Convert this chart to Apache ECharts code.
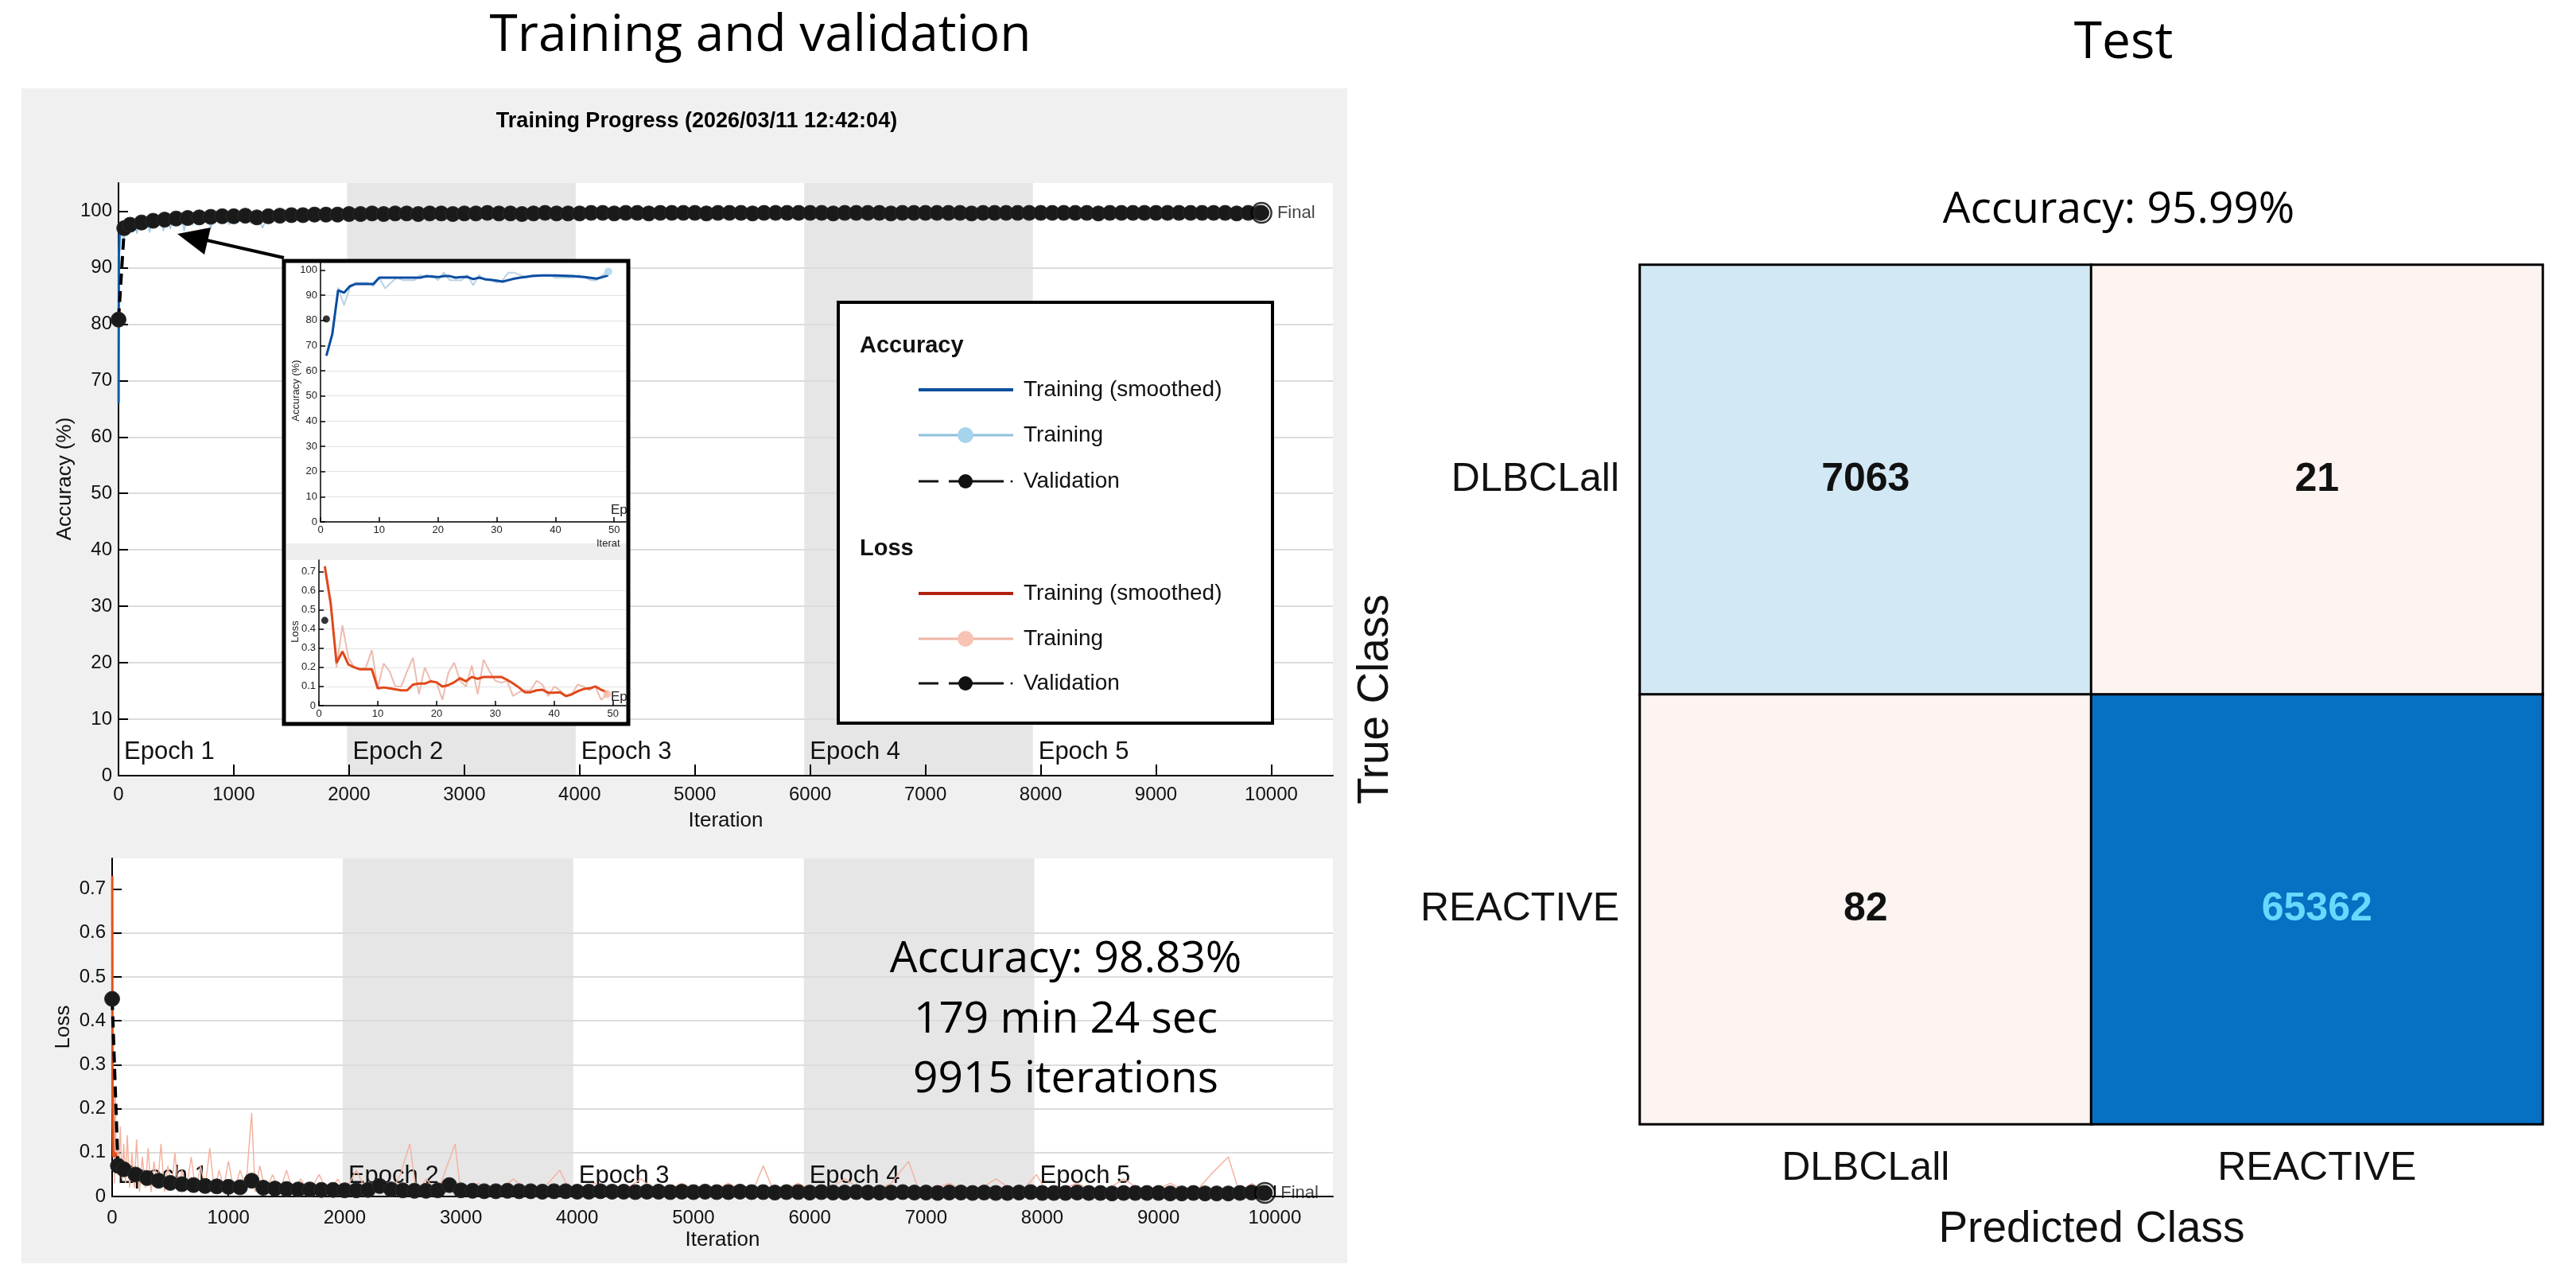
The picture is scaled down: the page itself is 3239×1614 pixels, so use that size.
<!DOCTYPE html>
<html>
<head>
<meta charset="utf-8">
<script src="https://cdn.jsdelivr.net/npm/echarts@6/dist/echarts.min.js"></script>
<style>html,body{margin:0;padding:0;background:#fff}#c{width:3239px;height:1614px}</style>
</head>
<body>
<div id="c"></div>
<script>
// ---------------- DATA ----------------
const iterTicks = [0,1000,2000,3000,4000,5000,6000,7000,8000,9000,10000];
const accTicks = [0,10,20,30,40,50,60,70,80,90,100];
const lossTicks = [0,0.1,0.2,0.3,0.4,0.5,0.6,0.7];
const insetIterTicks = [0,10,20,30,40,50];
const epochStarts = [0,1983,3966,5949,7932];
const epochLabels = ['Epoch 1','Epoch 2','Epoch 3','Epoch 4','Epoch 5'];
const shadedEpochs = [[1983,3966],[5949,7932]];

// Training accuracy (raw), iteration / value
const trainAccIter = [1,5,10,20,30,45,60,80,100,120,140,160,185,210,240,270,300,330,360,390,420,450,480,510,540,570,600,640,680,720,760,800,840,880,920,960,1000,1050,1100,1150,1200,1250,1300,1350,1400,1450,1500,1600,1700,1800,1900,2000,2150,2300,2500,2700,2850,3000,3100,3250,3400,3600,3870,4000,4300,4600,5000,5400,5800,6200,6600,7000,7400,7800,8200,8600,9000,9400,9600,9915];
const trainAccValues = [66,88,93,96,97,94,97.5,96,98,96.5,98.5,96,98.8,97,99,96.2,99,97.5,99.2,96.5,99.3,96.8,99.2,97.8,99.3,96.5,99.5,97.5,99.4,98,99.5,97,99.6,98.2,99.5,97.6,99.6,98.5,99.7,97.8,99.5,97,99.6,98.6,99.7,98.4,99.8,98.8,99.8,99,99.9,98.2,99.9,99.2,99.9,99.3,98.6,99.9,98.8,99.9,98.9,99.9,98.5,99.9,99.4,99.9,99.6,99.9,99.5,100,99.6,100,99.5,100,99.6,100,99.5,100,98.6,99.9];
// Training accuracy (smoothed)
const trainAccSmoothed = [[1,66],[3,92],[10,97],[30,96.5],[50,97.3],[100,97.7],[200,98.1],[400,98.5],[700,98.9],[1000,99.1],[1200,99.0],[1500,99.3],[2000,99.4],[3000,99.5],[4000,99.6],[6000,99.7],[8000,99.7],[9915,99.8]];

// Validation (iterations shared by accuracy and loss)
const valIters = [0,50,100,200,300,400,500,600,700,800,900,1000,1100,1200,1300,1400,1500,1600,1700,1800,1900,2000,2100,2200,2300,2400,2500,2600,2700,2800,2900,3000,3100,3200,3300,3400,3500,3600,3700,3800,3900,4000,4100,4200,4300,4400,4500,4600,4700,4800,4900,5000,5100,5200,5300,5400,5500,5600,5700,5800,5900,6000,6100,6200,6300,6400,6500,6600,6700,6800,6900,7000,7100,7200,7300,7400,7500,7600,7700,7800,7900,8000,8100,8200,8300,8400,8500,8600,8700,8800,8900,9000,9100,9200,9300,9400,9500,9600,9700,9800,9900,9915];
const valAccValues = [80.8,97.0,97.6,98.0,98.3,98.5,98.7,98.8,98.9,99.0,99.1,99.1,99.2,98.9,99.1,99.2,99.3,99.3,99.4,99.4,99.4,99.5,
 99.5,99.6,99.5,99.6,99.6,99.5,99.6,99.6,99.5,
 99.6,99.6,99.7,99.6,99.6,99.5,99.6,99.7,99.6,99.6,
 99.6,99.7,99.7,99.6,99.7,99.7,99.6,99.7,99.7,99.7,
 99.7,99.6,99.7,99.7,99.7,99.6,99.7,99.7,99.7,99.7,
 99.7,99.7,99.6,99.7,99.7,99.7,99.7,99.6,99.7,99.7,
 99.7,99.7,99.7,99.7,99.6,99.7,99.7,99.7,99.7,99.7,
 99.7,99.7,99.7,99.7,99.7,99.6,99.7,99.7,99.7,99.7,
 99.7,99.7,99.7,99.7,99.7,99.7,99.7,99.6,99.7,99.7,
 99.7];
const valLossValues = [0.45,0.07,0.062,0.05,0.042,0.036,0.031,0.028,0.026,0.024,0.023,0.022,0.021,0.036,0.02,0.018,0.017,0.016,0.016,0.015,0.015,0.014,
 0.014,0.015,0.024,0.016,0.014,0.013,0.013,0.014,0.026,
 0.014,0.013,0.012,0.012,0.013,0.012,0.012,0.011,0.012,0.012,
 0.011,0.011,0.012,0.011,0.011,0.01,0.011,0.011,0.01,0.011,
 0.01,0.011,0.01,0.01,0.011,0.01,0.01,0.009,0.01,0.01,
 0.009,0.01,0.009,0.009,0.01,0.009,0.009,0.009,0.01,0.009,
 0.009,0.008,0.009,0.009,0.008,0.009,0.008,0.008,0.009,0.01,
 0.008,0.008,0.008,0.009,0.008,0.008,0.007,0.008,0.008,0.008,
 0.008,0.007,0.007,0.008,0.007,0.007,0.007,0.008,0.009,0.008,
 0.008];

// Training loss (raw)
const trainLossRaw = [[1,0.73],[3,0.2],[5,0.42],[10,0.09],[16,0.25],[21,0.03],[28,0.24],[35,0.08],[45,0.13],[55,0.05],[70,0.16],[85,0.04],[100,0.12],[115,0.03],[130,0.14],[150,0.02],[170,0.1],[190,0.02],[210,0.13],[235,0.01],[260,0.09],[285,0.02],[310,0.11],[335,0.01],[360,0.08],[390,0.02],[420,0.12],[450,0.01],[480,0.07],[510,0.02],[540,0.1],[570,0.01],[600,0.06],[640,0.02],[680,0.09],[720,0.01],[760,0.07],[800,0.02],[840,0.11],[880,0.01],[920,0.06],[960,0.02],[1000,0.08],[1050,0.01],[1100,0.06],[1150,0.02],[1200,0.19],[1230,0.01],[1270,0.07],[1320,0.01],[1380,0.05],[1440,0.01],[1500,0.06],[1560,0.005],[1620,0.04],[1700,0.01],[1780,0.05],[1860,0.005],[1940,0.04],[2000,0.01],[2100,0.06],[2200,0.005],[2300,0.04],[2400,0.01],[2480,0.05],[2560,0.12],[2620,0.005],[2700,0.04],[2800,0.01],[2950,0.12],[3000,0.005],[3150,0.03],[3300,0.005],[3450,0.04],[3600,0.005],[3750,0.03],[3850,0.06],[3950,0.005],[4150,0.03],[4350,0.005],[4550,0.04],[4700,0.005],[4900,0.03],[5100,0.005],[5300,0.03],[5500,0.005],[5600,0.07],[5700,0.005],[5900,0.03],[6100,0.005],[6300,0.04],[6500,0.005],[6700,0.03],[6850,0.08],[6950,0.005],[7200,0.03],[7400,0.005],[7600,0.04],[7800,0.005],[7950,0.05],[8050,0.005],[8300,0.03],[8500,0.005],[8700,0.04],[8900,0.005],[9100,0.03],[9300,0.005],[9450,0.05],[9600,0.09],[9700,0.005],[9800,0.03],[9915,0.01]];
// Training loss (smoothed)
const trainLossSmoothed = [[1,0.73],[3,0.23],[10,0.09],[30,0.1],[50,0.07],[100,0.06],[200,0.045],[300,0.04],[500,0.03],[800,0.025],[1000,0.022],[1200,0.03],[1300,0.02],[1500,0.018],[2000,0.014],[3000,0.012],[4000,0.01],[5000,0.009],[6000,0.008],[7000,0.008],[8000,0.007],[9000,0.007],[9915,0.006]];

// Inset: first 49 iterations
const insetAccRaw = [66,74,93,86,93,95,95,95,93.6,97,92.7,95,97,96,96,96,98,97,98,96,99,96,96,96,98,94,98,96,96,95,96,99,99,98,97,98,98,98,98,97,97,97,97,98,97,96,96,98,99.4];
const insetAccSmoothed = [66,74.5,92,91,93.6,94.5,94.5,94.5,94.5,97,97,97,97,97,97,97,97,97.6,97.4,97.2,97.6,97.6,97,97.2,97.3,96.4,97,96.4,96.1,95.8,95.4,96,96.6,97,97.3,97.6,97.8,97.9,97.9,97.9,97.8,97.7,97.6,97.4,97.2,96.9,96.6,97.2,97.9];
const insetLossRaw = [0.73,0.55,0.2,0.42,0.25,0.2,0.19,0.2,0.29,0.09,0.22,0.18,0.1,0.1,0.18,0.25,0.06,0.2,0.13,0.12,0.03,0.17,0.225,0.13,0.1,0.21,0.06,0.24,0.18,0.13,0.12,0.13,0.05,0.07,0.08,0.08,0.13,0.11,0.05,0.1,0.08,0.05,0.06,0.11,0.1,0.08,0.1,0.03,0.06];
const insetLossSmoothed = [0.727,0.533,0.223,0.283,0.215,0.2,0.19,0.19,0.19,0.09,0.095,0.09,0.085,0.08,0.08,0.11,0.115,0.115,0.127,0.122,0.1,0.107,0.122,0.143,0.127,0.15,0.14,0.15,0.15,0.15,0.15,0.135,0.116,0.095,0.07,0.07,0.08,0.083,0.067,0.068,0.07,0.05,0.059,0.075,0.087,0.09,0.1,0.083,0.07];
const insetValIter = [1];
const insetValAcc = [80.6];
const insetValLoss = [0.445];

// Confusion matrix (Test)
const classes = ['DLBCLall','REACTIVE'];
const confusion = [[7063,21],[82,65362]];

// ---------------- BUILD ----------------
const FONT = "'Liberation Sans', Arial, sans-serif";
const CAL = "'Open Sans', sans-serif";
const pair = (xs, ys) => xs.map((x, i) => [x, ys[i]]);
const byIndex = (ys) => ys.map((y, i) => [i + 1, y]);
const plain = v => String(Math.round(v * 1000) / 1000);

const valAccPts = pair(valIters, valAccValues);
const valLossPts = pair(valIters, valLossValues);
const trainAccPts = pair(trainAccIter, trainAccValues);

const cellFill = [['#d3e8f5','#fdf3f0'],['#fdf3f0','#0670c2']];
const cellText = [['#111','#111'],['#111','#66d9ff']];
const heatData = [];
classes.forEach((t, i) => classes.forEach((p, j) => heatData.push({
  value: [j, i, confusion[i][j]],
  itemStyle: { color: cellFill[i][j] },
  label: { color: cellText[i][j] }
})));

function valueX(gi, max, ticks, o) {
  return Object.assign({
    type: 'value', gridIndex: gi, min: 0, max: max, z: 2,
    axisLine: { show: true, onZero: false, lineStyle: { color: '#000', width: 2 } },
    axisTick: { show: true, inside: true, length: 14, customValues: ticks, lineStyle: { color: '#000', width: 2 } },
    axisLabel: { show: true, customValues: ticks, formatter: plain, fontSize: 24, margin: 12, color: '#111', fontFamily: FONT },
    splitLine: { show: false }
  }, o);
}
function valueY(gi, max, ticks, o) {
  return Object.assign({
    type: 'value', gridIndex: gi, min: 0, max: max, z: 2,
    axisLine: { show: true, onZero: false, lineStyle: { color: '#000', width: 2 } },
    axisTick: { show: true, inside: true, length: 12, customValues: ticks, lineStyle: { color: '#000', width: 2 } },
    axisLabel: { show: true, customValues: ticks, formatter: plain, fontSize: 24, margin: 8, color: '#111', fontFamily: FONT },
    splitLine: { show: true, showMaxLine: false, lineStyle: { color: '#dcdcdc', width: 2 } }
  }, o);
}

function shadeSeries(ai) {
  return {
    type: 'custom', xAxisIndex: ai, yAxisIndex: ai, z: 1, silent: true,
    encode: { x: [0, 1] }, data: shadedEpochs,
    renderItem: (params, api) => {
      const cs = params.coordSys;
      const a = api.coord([api.value(0), 0]);
      const b = api.coord([api.value(1), 0]);
      return { type: 'rect', shape: { x: a[0], y: cs.y, width: b[0] - a[0], height: cs.height }, style: { fill: '#e6e6e6' } };
    }
  };
}
function epochLabelSeries(ai, yPos) {
  return {
    type: 'custom', xAxisIndex: ai, yAxisIndex: ai, z: 2, silent: true,
    data: epochStarts.map(v => [v, yPos]),
    renderItem: (params, api) => {
      const p = api.coord([api.value(0), api.value(1)]);
      return { type: 'text', x: p[0] + 7, y: p[1], style: { text: epochLabels[params.dataIndex], fontSize: 31, fontFamily: FONT, fill: '#111', align: 'left', verticalAlign: 'middle' } };
    }
  };
}
function finalSeries(ai, pt) {
  return {
    type: 'scatter', xAxisIndex: ai, yAxisIndex: ai, z: 7, data: [pt],
    symbol: 'circle', symbolSize: 25,
    itemStyle: { color: 'rgba(0,0,0,0)', borderColor: '#000', borderWidth: 2.5 },
    label: { show: true, position: 'right', distance: 6, formatter: 'Final', fontSize: 22, color: '#111', fontFamily: FONT }
  };
}
function valSeries(ai, pts) {
  return { name: 'Validation', type: 'line', xAxisIndex: ai, yAxisIndex: ai, z: 5, data: pts,
    symbol: 'circle', symbolSize: 19, showSymbol: true, showAllSymbol: true,
    itemStyle: { color: '#1a1a1a', borderColor: '#2a2a2a', borderWidth: 1 },
    lineStyle: { color: '#000', width: 4, type: [14, 8] } };
}

const series = [
  // main accuracy
  shadeSeries(0), epochLabelSeries(0, 4.2),
  { name: 'Training', type: 'line', xAxisIndex: 0, yAxisIndex: 0, z: 3, data: trainAccPts, showSymbol: false, lineStyle: { color: '#9cc9e6', width: 1.5 } },
  { name: 'Training (smoothed)', type: 'line', xAxisIndex: 0, yAxisIndex: 0, z: 4, data: trainAccSmoothed, showSymbol: false, lineStyle: { color: '#0b5cad', width: 3 } },
  valSeries(0, valAccPts),
  finalSeries(0, valAccPts[valAccPts.length - 1]),
  // main loss
  shadeSeries(1), epochLabelSeries(1, 0.047),
  { name: 'Training', type: 'line', xAxisIndex: 1, yAxisIndex: 1, z: 3, data: trainLossRaw, showSymbol: false, lineStyle: { color: '#f4b3a0', width: 1.5 } },
  { name: 'Training (smoothed)', type: 'line', xAxisIndex: 1, yAxisIndex: 1, z: 4, data: trainLossSmoothed, showSymbol: false, lineStyle: { color: '#e2531d', width: 3 } },
  valSeries(1, valLossPts),
  finalSeries(1, valLossPts[valLossPts.length - 1]),
  // inset accuracy
  { type: 'line', xAxisIndex: 2, yAxisIndex: 2, z: 23, data: byIndex(insetAccRaw), showSymbol: false, lineStyle: { color: '#b9d2e4', width: 2 } },
  { type: 'line', xAxisIndex: 2, yAxisIndex: 2, z: 24, data: byIndex(insetAccSmoothed), showSymbol: false, lineStyle: { color: '#0b4ea2', width: 3 } },
  { type: 'scatter', xAxisIndex: 2, yAxisIndex: 2, z: 25, data: pair(insetValIter, insetValAcc), symbolSize: 9, itemStyle: { color: '#000' } },
  { type: 'scatter', xAxisIndex: 2, yAxisIndex: 2, z: 25, data: [byIndex(insetAccRaw)[insetAccRaw.length - 1]], symbolSize: 10, itemStyle: { color: '#a8d3ee' } },
  // inset loss
  { type: 'line', xAxisIndex: 3, yAxisIndex: 3, z: 23, data: byIndex(insetLossRaw), showSymbol: false, lineStyle: { color: '#ecbcb0', width: 2 } },
  { type: 'line', xAxisIndex: 3, yAxisIndex: 3, z: 24, data: byIndex(insetLossSmoothed), showSymbol: false, lineStyle: { color: '#e0481a', width: 3 } },
  { type: 'scatter', xAxisIndex: 3, yAxisIndex: 3, z: 25, data: pair(insetValIter, insetValLoss), symbolSize: 9, itemStyle: { color: '#000' } },
  { type: 'scatter', xAxisIndex: 3, yAxisIndex: 3, z: 25, data: [byIndex(insetLossRaw)[insetLossRaw.length - 1]], symbolSize: 10, itemStyle: { color: '#f6b9a8' } },
  // confusion matrix
  { type: 'heatmap', xAxisIndex: 4, yAxisIndex: 4, data: heatData,
    itemStyle: { borderColor: '#000', borderWidth: 3 },
    label: { show: true, fontSize: 50, fontWeight: 'bold', fontFamily: FONT, formatter: p => String(p.value[2]) },
    emphasis: { disabled: true } }
];

const insetAxisBase = (gi, max, ticks, isX, o) => Object.assign({
  type: 'value', gridIndex: gi, min: 0, max: max, z: 22,
  axisLine: { show: true, onZero: false, lineStyle: { color: '#000', width: 1.5 } },
  axisTick: { show: true, inside: true, length: 6, customValues: ticks, lineStyle: { color: '#000', width: 1.5 } },
  axisLabel: { show: true, customValues: ticks, formatter: plain, fontSize: 13, margin: 4, color: '#222', fontFamily: FONT },
  splitLine: isX ? { show: false } : { show: true, showMaxLine: false, lineStyle: { color: '#e2e2e2', width: 1 } }
}, o);

const legendRows = [
  { y: 490, label: 'Training (smoothed)', kind: 'solid', color: '#0b4f9c' },
  { y: 547, label: 'Training', kind: 'marker', color: '#8fc0de', mark: '#a7d3ec' },
  { y: 605, label: 'Validation', kind: 'dash' },
  { y: 746, label: 'Training (smoothed)', kind: 'solid', color: '#b2220f' },
  { y: 803, label: 'Training', kind: 'marker', color: '#efb5a5', mark: '#f7c3b2' },
  { y: 859, label: 'Validation', kind: 'dash' }
];
const legendEls = [
  { type: 'rect', z: 20, shape: { x: 1054, y: 380, width: 546, height: 529 }, style: { fill: '#fff', stroke: '#000', lineWidth: 4 } },
  { type: 'text', z: 21, x: 1081, y: 435, style: { text: 'Accuracy', fontSize: 29, fontWeight: 'bold', fontFamily: FONT, fill: '#111', align: 'left', verticalAlign: 'middle' } },
  { type: 'text', z: 21, x: 1081, y: 690, style: { text: 'Loss', fontSize: 29, fontWeight: 'bold', fontFamily: FONT, fill: '#111', align: 'left', verticalAlign: 'middle' } }
];
legendRows.forEach(r => {
  if (r.kind === 'solid') {
    legendEls.push({ type: 'line', z: 21, shape: { x1: 1155, y1: r.y, x2: 1274, y2: r.y }, style: { stroke: r.color, lineWidth: 4 } });
  } else if (r.kind === 'marker') {
    legendEls.push({ type: 'line', z: 21, shape: { x1: 1155, y1: r.y, x2: 1274, y2: r.y }, style: { stroke: r.color, lineWidth: 3 } });
    legendEls.push({ type: 'circle', z: 22, shape: { cx: 1214, cy: r.y, r: 10 }, style: { fill: r.mark } });
  } else {
    legendEls.push({ type: 'line', z: 21, shape: { x1: 1155, y1: r.y, x2: 1180, y2: r.y }, style: { stroke: '#111', lineWidth: 3 } });
    legendEls.push({ type: 'line', z: 21, shape: { x1: 1193, y1: r.y, x2: 1262, y2: r.y }, style: { stroke: '#111', lineWidth: 3 } });
    legendEls.push({ type: 'circle', z: 21, shape: { cx: 1272, cy: r.y, r: 1.5 }, style: { fill: '#111' } });
    legendEls.push({ type: 'circle', z: 22, shape: { cx: 1214, cy: r.y, r: 9 }, style: { fill: '#111' } });
  }
  legendEls.push({ type: 'text', z: 21, x: 1287, y: r.y, style: { text: r.label, fontSize: 28, fontFamily: FONT, fill: '#111', align: 'left', verticalAlign: 'middle' } });
});

const graphics = [
  { type: 'rect', z: -100, shape: { x: 27, y: 111, width: 1667, height: 1477 }, style: { fill: '#f0f0f0' } },
  // titles
  { type: 'text', z: 30, x: 956, y: 46, style: { text: 'Training and validation', fontSize: 64, fontFamily: CAL, fill: '#000', align: 'center', verticalAlign: 'middle' } },
  { type: 'text', z: 30, x: 2670, y: 55, style: { text: 'Test', fontSize: 64, fontFamily: CAL, fill: '#000', align: 'center', verticalAlign: 'middle' } },
  { type: 'text', z: 30, x: 2664, y: 264, style: { text: 'Accuracy: 95.99%', fontSize: 55, fontFamily: CAL, fill: '#000', align: 'center', verticalAlign: 'middle' } },
  { type: 'text', z: 30, x: 876, y: 153, style: { text: 'Training Progress (2026/03/11 12:42:04)', fontSize: 27, fontWeight: 'bold', fontFamily: FONT, fill: '#000', align: 'center', verticalAlign: 'middle' } },
  // summary text
  { type: 'text', z: 30, x: 1340, y: 1206, style: { text: 'Accuracy: 98.83%', fontSize: 55, fontFamily: CAL, fill: '#000', align: 'center', verticalAlign: 'middle' } },
  { type: 'text', z: 30, x: 1340, y: 1282, style: { text: '179 min 24 sec', fontSize: 55, fontFamily: CAL, fill: '#000', align: 'center', verticalAlign: 'middle' } },
  { type: 'text', z: 30, x: 1340, y: 1357, style: { text: '9915 iterations', fontSize: 55, fontFamily: CAL, fill: '#000', align: 'center', verticalAlign: 'middle' } },
  // y-axis titles (left)
  { type: 'text', z: 30, x: 82, y: 602, rotation: Math.PI / 2, style: { text: 'Accuracy (%)', fontSize: 26, fontFamily: FONT, fill: '#111', align: 'center', verticalAlign: 'middle' } },
  { type: 'text', z: 30, x: 80, y: 1291, rotation: Math.PI / 2, style: { text: 'Loss', fontSize: 26, fontFamily: FONT, fill: '#111', align: 'center', verticalAlign: 'middle' } },
  // arrow
  { type: 'line', z: 19, shape: { x1: 357, y1: 324, x2: 260, y2: 302 }, style: { stroke: '#000', lineWidth: 4 } },
  { type: 'polygon', z: 19, shape: { points: [[223, 294], [265, 286], [257, 320]] }, style: { fill: '#000' } },
  // inset box
  { type: 'rect', z: 20, shape: { x: 357, y: 328, width: 433, height: 582 }, style: { fill: '#fff', stroke: '#000', lineWidth: 5 } },
  { type: 'rect', z: 21, shape: { x: 360, y: 683, width: 427, height: 21 }, style: { fill: '#eeeeee' } },
  { type: 'text', z: 26, x: 372, y: 491, rotation: Math.PI / 2, style: { text: 'Accuracy (%)', fontSize: 13, fontFamily: FONT, fill: '#222', align: 'center', verticalAlign: 'middle' } },
  { type: 'text', z: 26, x: 371, y: 794, rotation: Math.PI / 2, style: { text: 'Loss', fontSize: 13, fontFamily: FONT, fill: '#222', align: 'center', verticalAlign: 'middle' } },
  { type: 'text', z: 26, x: 768, y: 641, style: { text: 'Epoch 1', fontSize: 17, fontFamily: FONT, fill: '#222', align: 'left', verticalAlign: 'middle', width: 24, overflow: 'truncate', ellipsis: '' } },
  { type: 'text', z: 26, x: 768, y: 876, style: { text: 'Epoch 1', fontSize: 17, fontFamily: FONT, fill: '#222', align: 'left', verticalAlign: 'middle', width: 24, overflow: 'truncate', ellipsis: '' } },
  { type: 'text', z: 26, x: 750, y: 683, style: { text: 'Iteration', fontSize: 13, fontFamily: FONT, fill: '#222', align: 'left', verticalAlign: 'middle', width: 42, overflow: 'truncate', ellipsis: '' } },
  // confusion matrix axis titles
  { type: 'text', z: 30, x: 2630, y: 1546, style: { text: 'Predicted Class', fontSize: 55, fontFamily: FONT, fill: '#111', align: 'center', verticalAlign: 'middle' } },
  { type: 'text', z: 30, x: 1730, y: 879, rotation: Math.PI / 2, style: { text: 'True Class', fontSize: 55, fontFamily: FONT, fill: '#111', align: 'center', verticalAlign: 'middle' } }
].concat(legendEls);

const option = {
  animation: false,
  backgroundColor: '#ffffff',
  textStyle: { fontFamily: FONT },
  grid: [
    { left: 149, top: 230, width: 1527, height: 745, show: true, backgroundColor: '#fff', borderWidth: 0, containLabel: false, outerBoundsMode: 'none' },
    { left: 141, top: 1079, width: 1535, height: 425, show: true, backgroundColor: '#fff', borderWidth: 0, containLabel: false, outerBoundsMode: 'none' },
    { left: 403, top: 330, width: 384, height: 326, show: false, containLabel: false, outerBoundsMode: 'none' },
    { left: 401, top: 704, width: 386, height: 183, show: false, containLabel: false, outerBoundsMode: 'none' },
    { left: 2062, top: 333, width: 1135, height: 1080, show: false, containLabel: false, outerBoundsMode: 'none' }
  ],
  xAxis: [
    valueX(0, 10535, iterTicks, { interval: 1000, name: 'Iteration', nameLocation: 'middle', nameGap: 44, nameTextStyle: { fontSize: 26, color: '#111', fontFamily: FONT } }),
    valueX(1, 10500, iterTicks, { interval: 1000, name: 'Iteration', nameLocation: 'middle', nameGap: 42, axisLabel: { show: true, customValues: iterTicks, formatter: plain, fontSize: 24, margin: 15, color: '#111', fontFamily: FONT }, nameTextStyle: { fontSize: 26, color: '#111', fontFamily: FONT } }),
    insetAxisBase(2, 52, insetIterTicks, true, { interval: 10 }),
    insetAxisBase(3, 52.2, insetIterTicks, true, { interval: 10 }),
    { type: 'category', gridIndex: 4, data: classes, position: 'bottom', z: 2,
      axisLine: { show: false }, axisTick: { show: false }, splitLine: { show: false },
      axisLabel: { fontSize: 50, margin: 31, color: '#111', fontFamily: FONT } }
  ],
  yAxis: [
    valueY(0, 105, accTicks, { interval: 10 }),
    valueY(1, 0.77, lossTicks, { interval: 0.1 }),
    insetAxisBase(2, 103, accTicks, false, { interval: 10 }),
    insetAxisBase(3, 0.76, lossTicks, false, { interval: 0.1 }),
    { type: 'category', gridIndex: 4, data: classes, inverse: true, z: 2,
      axisLine: { show: false }, axisTick: { show: false }, splitLine: { show: false },
      axisLabel: { fontSize: 50, margin: 26, color: '#111', fontFamily: FONT } }
  ],
  series: series,
  graphic: { elements: graphics }
};

const chart = echarts.init(document.getElementById('c'), null, { renderer: 'canvas', width: 3239, height: 1614 });
chart.setOption(option);
</script>
</body>
</html>
